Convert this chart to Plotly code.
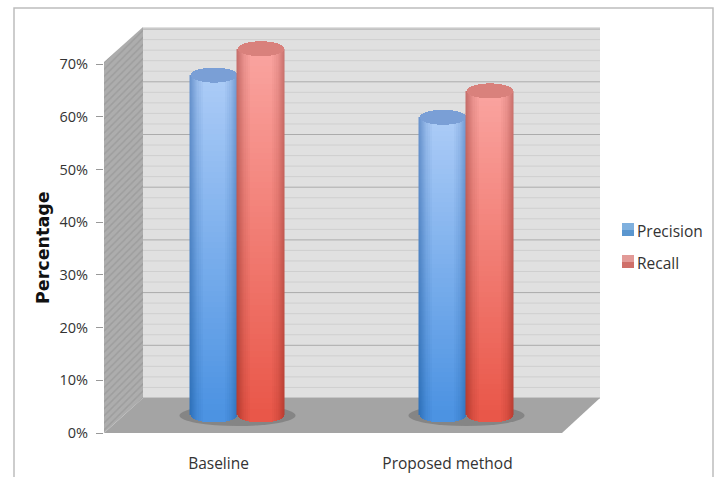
import numpy as np
import plotly.graph_objects as go

# Chart data
categories = ["Baseline", "Proposed method"]
precision = [64.5, 56.5]
recall = [69.5, 61.5]
tick_values = [0, 10, 20, 30, 40, 50, 60, 70]
series_names = ["Precision", "Recall"]

# Geometry of the 3-D box, in axis units
PX_PER_PCT = 5.27
PX_PER_CAT = 229.0
Y_MAX = 406 / PX_PER_PCT
X_MAX = 496 / PX_PER_CAT
DEPTH_X = 39 / PX_PER_CAT
DEPTH_Y = 35 / PX_PER_PCT
FLOOR_TIP = 458 / PX_PER_CAT

CYL_HALF = 23.5 / PX_PER_CAT
CAP_Y = 7.5 / PX_PER_PCT
BASE_Y = 18 / PX_PER_PCT
OFFSET_PRECISION = -5 / PX_PER_CAT
OFFSET_RECALL = 42 / PX_PER_CAT

# Shading corners of a cylinder side, plus the flat colour of its lid
BLUE = dict(top_edge="#6d96cf", top_mid="#b4d2fb", low_edge="#2f72bb", low_mid="#4f96e6", cap="#7a9fd6")
RED = dict(top_edge="#c9726e", top_mid="#ffaaa6", low_edge="#b83c30", low_mid="#ee5a4c", cap="#d9817c")

N_ACROSS, N_ALONG = 12, 64


def rgb(hex_colour):
    return np.array([int(hex_colour[k:k + 2], 16) for k in (1, 3, 5)], dtype=float)


def shade_scale(c):
    """Stepped colourscale holding every across/along shade, with the lid as the last step."""
    colours = []
    for t in np.linspace(0, 1, N_ALONG):
        for a in np.linspace(0, 1, N_ACROSS):
            low = rgb(c["low_edge"]) * (1 - a) + rgb(c["low_mid"]) * a
            top = rgb(c["top_edge"]) * (1 - a) + rgb(c["top_mid"]) * a
            v = low * (1 - t) + top * t
            colours.append(f"rgb({v[0]:.0f},{v[1]:.0f},{v[2]:.0f})")
    colours.append(c["cap"])
    n = len(colours)
    scale = []
    for k, col in enumerate(colours):
        scale += [[k / n, col], [(k + 1) / n, col]]
    return scale, n


def cylinder(center, value, c, name):
    """Shaded cylinder standing on the floor, as a heatmap with elliptical ends."""
    scale, n = shade_scale(c)
    top = value + BASE_Y
    xs = np.arange(center - CYL_HALF, center + CYL_HALF + 1e-9, 1 / PX_PER_CAT)
    ys = np.arange(BASE_Y - CAP_Y, top + CAP_Y, 1 / PX_PER_PCT)
    u = (xs - center) / CYL_HALF
    arc = np.sqrt(np.clip(1 - u ** 2, 0, 1))
    across = np.clip(1 - np.abs(u) ** 3, 0, 1)
    z = np.full((len(ys), len(xs)), np.nan)
    for i, y in enumerate(ys):
        for j in range(len(xs)):
            if y < BASE_Y - CAP_Y * arc[j] or y > top + CAP_Y * arc[j]:
                continue
            if y > top - CAP_Y * arc[j]:
                index = n - 1
            else:
                t = np.clip((y - BASE_Y) / (top - BASE_Y), 0, 1)
                index = int(t * (N_ALONG - 1)) * N_ACROSS + int(across[j] * (N_ACROSS - 1))
            z[i, j] = (index + 0.5) / n
    return go.Heatmap(x=xs, y=ys, z=z, zmin=0, zmax=1, colorscale=scale, showscale=False,
                      hoverinfo="skip", name=name)


fig = go.Figure()

# Left wall with its diagonal hatching
fig.add_trace(go.Scatter(
    x=[0, DEPTH_X, DEPTH_X, 0, 0],
    y=[0, DEPTH_Y, Y_MAX, Y_MAX - DEPTH_Y, 0],
    mode="lines", line=dict(width=0), fill="toself",
    fillcolor="#a6a6a6",
    fillpattern=dict(shape="/", fgcolor="#8e8e8e", bgcolor="#adadad", size=5, solidity=0.3),
    showlegend=False, hoverinfo="skip",
))

# Cylinders
for i in range(len(categories)):
    centre = i + 0.5
    fig.add_trace(cylinder(centre + OFFSET_PRECISION, precision[i], BLUE, series_names[0]))
    fig.add_trace(cylinder(centre + OFFSET_RECALL, recall[i], RED, series_names[1]))

shapes = []
# Back wall
shapes.append(dict(type="rect", layer="below", x0=DEPTH_X, x1=X_MAX, y0=DEPTH_Y, y1=Y_MAX,
                   fillcolor="#e0e0e0", line_width=0))
# Back-wall grid: faint every 2%, stronger every 10%
for pct in range(0, 71, 2):
    major = pct % 10 == 0
    y = pct + DEPTH_Y
    shapes.append(dict(type="line", layer="below", x0=DEPTH_X, x1=X_MAX, y0=y, y1=y,
                       line=dict(color="#ababab" if major else "#cfcfcf", width=1)))
# Floor
shapes.append(dict(type="path", layer="below",
                   path=f"M 0 0 L {DEPTH_X} {DEPTH_Y} L {X_MAX} {DEPTH_Y} L {FLOOR_TIP} 0 Z",
                   fillcolor="#a4a4a4", line_width=0))
# Shadows under each pair of cylinders
for i in range(len(categories)):
    cx = i + 0.5 + 19 / PX_PER_CAT
    shapes.append(dict(type="circle", layer="below",
                       x0=cx - 58 / PX_PER_CAT, x1=cx + 58 / PX_PER_CAT,
                       y0=7 / PX_PER_PCT, y1=28 / PX_PER_PCT,
                       fillcolor="#858585", line_width=0))


def px_x(px):
    return px / 720


def px_y(px):
    return (477 - px) / 477


# Outer frame, open along the bottom edge
shapes.append(dict(type="path", xref="paper", yref="paper", layer="below",
                   path=f"M {px_x(14)} {px_y(477)} L {px_x(14)} {px_y(8)} "
                        f"L {px_x(713)} {px_y(8)} L {px_x(713)} {px_y(477)}",
                   line=dict(color="#bdbdbd", width=1.5)))

# Legend keys, each a lighter block over a deeper one
legend_keys = [("#7fb0de", "#5a96cf", 223), ("#e29a97", "#cf6f69", 255)]
annotations = []
for (light, deep, top_px), label in zip(legend_keys, series_names):
    shapes.append(dict(type="rect", xref="paper", yref="paper", x0=px_x(622), x1=px_x(634),
                       y0=px_y(top_px + 7), y1=px_y(top_px), fillcolor=light, line_width=0))
    shapes.append(dict(type="rect", xref="paper", yref="paper", x0=px_x(622), x1=px_x(634),
                       y0=px_y(top_px + 13), y1=px_y(top_px + 7), fillcolor=deep, line_width=0))
    annotations.append(dict(xref="paper", yref="paper", x=px_x(635), y=px_y(top_px + 8),
                            xanchor="left", yanchor="middle", showarrow=False, text=label,
                            font=dict(size=15.5, color="#333333")))

# Vertical axis title
annotations.append(dict(xref="paper", yref="paper", x=px_x(43), y=px_y(248), textangle=-90,
                        xanchor="center", yanchor="middle", showarrow=False,
                        text="<b>Percentage</b>",
                        font=dict(family="DejaVu Sans", size=17.5, color="#111111")))

fig.update_layout(
    width=720, height=477,
    margin=dict(l=0, r=0, t=0, b=0, autoexpand=False),
    paper_bgcolor="white", plot_bgcolor="rgba(0,0,0,0)",
    font=dict(family="Open Sans", size=13, color="#333333"),
    shapes=shapes, annotations=annotations, showlegend=False,
    xaxis=dict(domain=[104 / 720, 600 / 720], range=[0, X_MAX], showgrid=False, zeroline=False,
               tickmode="array", tickvals=[0.5, 1.5], ticktext=categories, ticks="",
               showline=False, tickfont=dict(size=15.5), ticklabelstandoff=19),
    yaxis=dict(domain=[44 / 477, 450 / 477], range=[0, Y_MAX], showgrid=False, zeroline=False,
               tickmode="array", tickvals=tick_values, ticktext=[f"{v}%" for v in tick_values],
               ticks="outside", ticklen=7, tickcolor="#999999", showline=False,
               tickfont=dict(size=14.5), ticklabelstandoff=5),
)

fig.write_html("out.html")
